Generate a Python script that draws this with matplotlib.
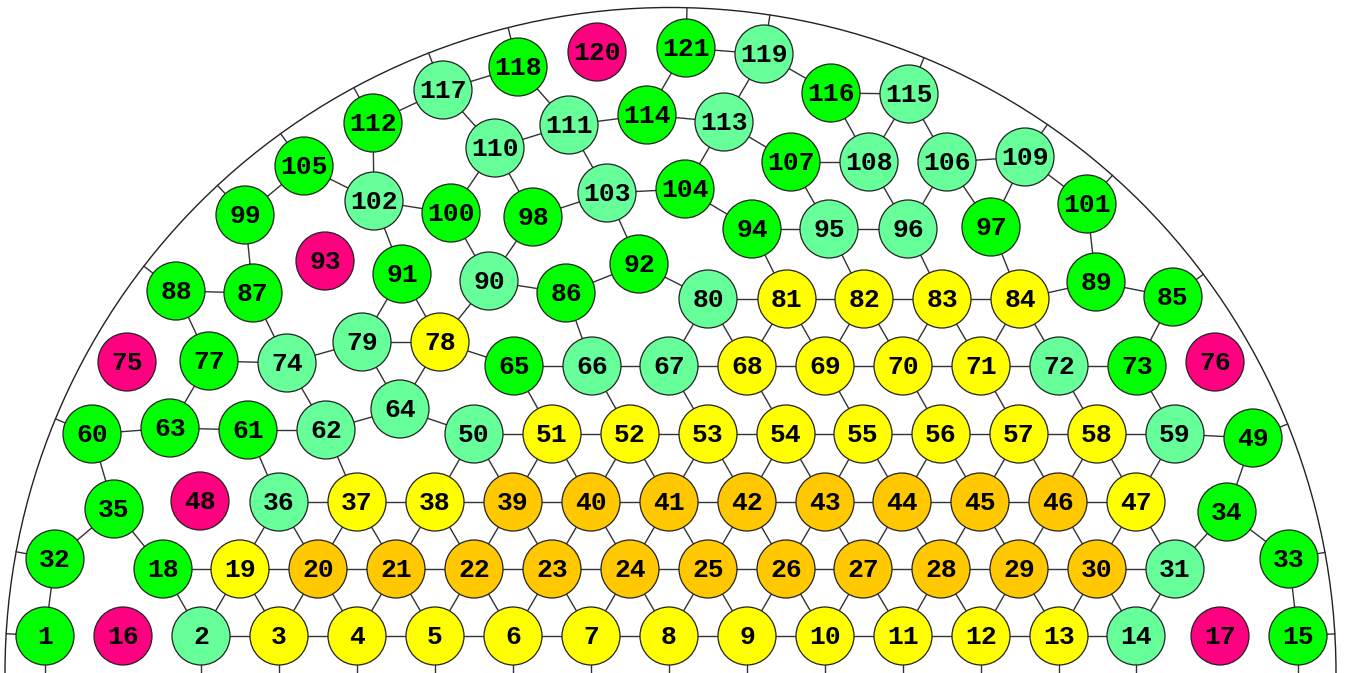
import matplotlib
matplotlib.use('agg')
import matplotlib.pyplot as plt
from matplotlib.patches import Circle, Arc
import numpy as np

# node positions (pixel coords, y down)
node_x = {
    1: 45, 2: 201, 3: 279, 4: 357, 5: 435, 6: 513, 7: 591, 8: 669, 9: 747, 10: 825,
    11: 903, 12: 981, 13: 1059, 14: 1136, 15: 1298, 16: 123, 17: 1220,
    18: 163, 19: 240, 20: 318, 21: 396, 22: 474, 23: 552, 24: 630, 25: 708, 26: 786,
    27: 863, 28: 941, 29: 1019, 30: 1097, 31: 1175, 32: 55, 33: 1289, 34: 1227, 35: 114,
    36: 279, 37: 357, 38: 435, 39: 513, 40: 591, 41: 669, 42: 747, 43: 825, 44: 902,
    45: 980, 46: 1058, 47: 1136, 48: 200, 49: 1253, 50: 474, 51: 552, 52: 630, 53: 708,
    54: 786, 55: 863, 56: 941, 57: 1019, 58: 1097, 59: 1175, 60: 92, 61: 248, 62: 326,
    63: 170, 64: 400, 65: 514, 66: 592, 67: 669, 68: 747, 69: 825, 70: 903, 71: 981,
    72: 1059, 73: 1137, 74: 287, 75: 127, 76: 1215, 77: 209, 78: 440, 79: 362, 80: 708,
    81: 787, 82: 864, 83: 942, 84: 1020, 85: 1173, 86: 566, 87: 253, 88: 176, 89: 1096,
    90: 489, 91: 402, 92: 639, 93: 325, 94: 752, 95: 829, 96: 908, 97: 991, 98: 533,
    99: 245, 100: 451, 101: 1087, 102: 374, 103: 607, 104: 685, 105: 304, 106: 947,
    107: 791, 108: 869, 109: 1025, 110: 495, 111: 569, 112: 373, 113: 724, 114: 647,
    115: 909, 116: 831, 117: 443, 118: 518, 119: 764, 120: 597, 121: 686,
}
node_y = {
    1: 636, 2: 636, 3: 636, 4: 636, 5: 636, 6: 636, 7: 636, 8: 636, 9: 636, 10: 636,
    11: 636, 12: 636, 13: 636, 14: 636, 15: 636, 16: 636, 17: 636,
    18: 569, 19: 569, 20: 569, 21: 569, 22: 569, 23: 569, 24: 569, 25: 569, 26: 569,
    27: 569, 28: 569, 29: 569, 30: 569, 31: 569, 32: 559, 33: 559, 34: 512, 35: 509,
    36: 502, 37: 502, 38: 502, 39: 502, 40: 502, 41: 502, 42: 502, 43: 502, 44: 502,
    45: 502, 46: 502, 47: 502, 48: 501, 49: 438, 50: 434, 51: 434, 52: 434, 53: 434,
    54: 434, 55: 434, 56: 434, 57: 434, 58: 434, 59: 434, 60: 434, 61: 430, 62: 430,
    63: 428, 64: 409, 65: 366, 66: 366, 67: 366, 68: 366, 69: 366, 70: 366, 71: 366,
    72: 366, 73: 366, 74: 363, 75: 362, 76: 362, 77: 361, 78: 342, 79: 342, 80: 299,
    81: 299, 82: 299, 83: 299, 84: 299, 85: 297, 86: 293, 87: 293, 88: 291, 89: 282,
    90: 281, 91: 274, 92: 264, 93: 261, 94: 229, 95: 229, 96: 229, 97: 227, 98: 217,
    99: 215, 100: 213, 101: 204, 102: 201, 103: 193, 104: 189, 105: 166, 106: 162,
    107: 162, 108: 162, 109: 157, 110: 148, 111: 125, 112: 123, 113: 122, 114: 115,
    115: 94, 116: 93, 117: 90, 118: 67, 119: 54, 120: 52, 121: 48,
}

green = [1, 15, 18, 32, 33, 34, 35, 49, 60, 61, 63, 65, 73, 77, 85, 86, 87, 88, 89, 91,
         92, 94, 97, 98, 99, 100, 101, 104, 105, 107, 112, 114, 116, 118, 121]
light_green = [2, 14, 31, 36, 50, 59, 62, 64, 66, 67, 72, 74, 79, 80, 90, 95, 96, 102,
               103, 106, 108, 109, 110, 111, 113, 115, 117, 119]
yellow = [3, 4, 5, 6, 7, 8, 9, 10, 11, 12, 13, 19, 37, 38, 47, 51, 52, 53, 54, 55, 56,
          57, 58, 68, 69, 70, 71, 78, 81, 82, 83, 84]
orange = [20, 21, 22, 23, 24, 25, 26, 27, 28, 29, 30, 39, 40, 41, 42, 43, 44, 45, 46]
magenta = [16, 17, 48, 75, 76, 93, 120]

edges = [
    (2, 3), (3, 4), (4, 5), (5, 6), (6, 7), (7, 8), (8, 9), (9, 10), (10, 11), (11, 12),
    (12, 13), (13, 14), (1, 32), (32, 35), (35, 60), (35, 18), (18, 2), (18, 19),
    (19, 20), (20, 21), (21, 22), (22, 23), (23, 24), (24, 25), (25, 26), (26, 27),
    (27, 28), (28, 29), (29, 30), (30, 31),
    (19, 2), (19, 3), (20, 3), (20, 4), (21, 4), (21, 5), (22, 5), (22, 6), (23, 6),
    (23, 7), (24, 7), (24, 8), (25, 8), (25, 9), (26, 9), (26, 10), (27, 10), (27, 11),
    (28, 11), (28, 12), (29, 12), (29, 13), (30, 13), (30, 14), (31, 14),
    (36, 37), (37, 38), (38, 39), (39, 40), (40, 41), (41, 42), (42, 43), (43, 44),
    (44, 45), (45, 46), (46, 47),
    (36, 19), (36, 20), (37, 20), (37, 21), (38, 21), (38, 22), (39, 22), (39, 23),
    (40, 23), (40, 24), (41, 24), (41, 25), (42, 25), (42, 26), (43, 26), (43, 27),
    (44, 27), (44, 28), (45, 28), (45, 29), (46, 29), (46, 30), (47, 30), (47, 31),
    (50, 51), (51, 52), (52, 53), (53, 54), (54, 55), (55, 56), (56, 57), (57, 58),
    (58, 59), (59, 49),
    (50, 38), (50, 39), (51, 39), (51, 40), (52, 40), (52, 41), (53, 41), (53, 42),
    (54, 42), (54, 43), (55, 43), (55, 44), (56, 44), (56, 45), (57, 45), (57, 46),
    (58, 46), (58, 47), (59, 47),
    (61, 36), (62, 37), (61, 62), (60, 63), (63, 61), (62, 64), (64, 50),
    (34, 49), (34, 31), (34, 33), (33, 15),
    (65, 66), (66, 67), (67, 68), (68, 69), (69, 70), (70, 71), (71, 72), (72, 73),
    (78, 65), (65, 51), (66, 52), (67, 53), (68, 54), (69, 55), (70, 56), (71, 57),
    (72, 58), (73, 59),
    (63, 77), (77, 74), (77, 88), (74, 87), (74, 79), (74, 62), (79, 78), (79, 64),
    (78, 64), (91, 79), (91, 78), (90, 78),
    (80, 67), (80, 68), (81, 68), (81, 69), (82, 69), (82, 70), (83, 70), (83, 71),
    (84, 71), (84, 72),
    (73, 85), (80, 81), (81, 82), (82, 83), (83, 84), (84, 89), (89, 85),
    (86, 66), (86, 90), (86, 92), (92, 80), (92, 103),
    (94, 81), (95, 82), (96, 83), (97, 84), (94, 95), (95, 96),
    (88, 87), (87, 99), (99, 105), (105, 102), (102, 112), (102, 100), (102, 91),
    (100, 90), (100, 110), (98, 90), (98, 110), (98, 103), (103, 104), (103, 111),
    (104, 94), (104, 113), (107, 113), (107, 108), (107, 95), (108, 116), (108, 115),
    (108, 96), (106, 115), (106, 109), (106, 96), (106, 97), (109, 97), (109, 101),
    (101, 89),
    (112, 117), (117, 118), (117, 110), (118, 111), (111, 110), (111, 114), (114, 121),
    (114, 113), (121, 119), (119, 113), (119, 116), (116, 115),
]

# nodes tied to the outer ring, and nodes tied downward (lower half not shown)
ring_nodes = [1, 32, 60, 88, 99, 105, 112, 117, 118, 121, 119, 115, 109, 101, 85, 49, 33, 15]
down_nodes = [1, 2, 3, 4, 5, 6, 7, 8, 9, 10, 11, 12, 13, 14, 15]

ring_cx, ring_cy, ring_r = 670.5, 673, 665.5
node_r = 29

colors = {}
for n in green:
    colors[n] = '#00ff00'
for n in light_green:
    colors[n] = '#66ff99'
for n in yellow:
    colors[n] = '#ffff00'
for n in orange:
    colors[n] = '#ffc800'
for n in magenta:
    colors[n] = '#ff0080'

fig = plt.figure(figsize=(13.45, 6.73), dpi=100)
ax = fig.add_axes([0, 0, 1, 1])
ax.set_xlim(0, 1345)
ax.set_ylim(673, 0)
ax.set_aspect('equal')
ax.axis('off')

ax.add_patch(Arc((ring_cx, ring_cy), 2 * ring_r, 2 * ring_r, theta1=180, theta2=360,
                 color='#222222', lw=1.0, zorder=1))

for a, b in edges:
    ax.plot([node_x[a], node_x[b]], [node_y[a], node_y[b]], color='#333333', lw=1.0, zorder=1)

for n in ring_nodes:
    dx, dy = node_x[n] - ring_cx, node_y[n] - ring_cy
    d = np.hypot(dx, dy)
    ax.plot([node_x[n], ring_cx + dx / d * ring_r], [node_y[n], ring_cy + dy / d * ring_r],
            color='#333333', lw=1.0, zorder=1)

for n in down_nodes:
    ax.plot([node_x[n], node_x[n]], [node_y[n], 700], color='#333333', lw=1.0, zorder=1)

for n in node_x:
    ax.add_patch(Circle((node_x[n], node_y[n]), node_r, facecolor=colors[n],
                        edgecolor='#222222', lw=0.9, zorder=2))
    ax.text(node_x[n], node_y[n] + 1, str(n), ha='center', va='center', fontsize=19,
            fontweight='bold', family='Liberation Mono', color='black', zorder=3)

fig.savefig('out.png', dpi=100)
